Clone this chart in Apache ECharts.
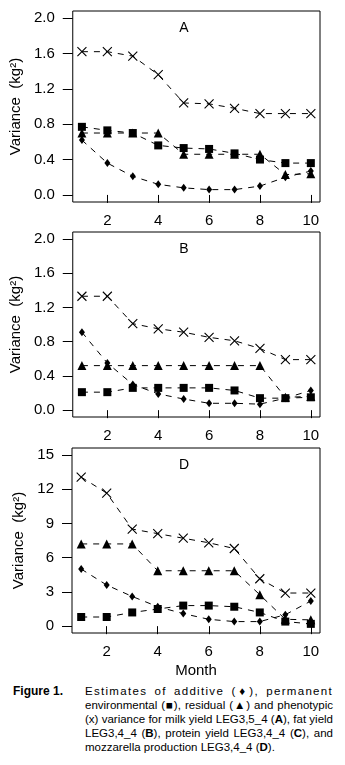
<!DOCTYPE html>
<html>
<head>
<meta charset="utf-8">
<script src="https://cdn.jsdelivr.net/npm/echarts@6/dist/echarts.min.js"></script>
<style>
  html, body { margin: 0; padding: 0; background: #fff; }
  #chart { position: absolute; left: 0; top: 0; width: 345px; height: 680px; }
  #caption { position: absolute; left: 0; top: 684px; width: 345px; font-family: "Liberation Sans", Arial, sans-serif; font-size: 11.5px; line-height: 14px; color: #000; }
  #caption .fig { position: absolute; left: 13px; top: 0; font-weight: bold; font-size: 12px; }
  #caption .body { position: absolute; left: 85px; top: 0; width: 248px; }
  #caption .ln { white-space: nowrap; text-align: justify; text-align-last: justify; }
  #caption .ln.first { letter-spacing: 1.3px; }
  #caption .ln.last { text-align-last: left; }
</style>
</head>
<body>
<div id="chart"></div>
<div id="caption">
  <div class="fig">Figure 1.</div>
  <div class="body">
    <div class="ln first">Estimates of additive (♦), permanent</div>
    <div class="ln">environmental (■), residual (▲) and phenotypic</div>
    <div class="ln">(x) variance for milk yield LEG3,5_4 (<b>A</b>), fat yield</div>
    <div class="ln">LEG3,4_4 (<b>B</b>), protein yield LEG3,4_4 (<b>C</b>), and</div>
    <div class="ln last">mozzarella production LEG3,4_4 (<b>D</b>).</div>
  </div>
</div>
<script>
  const months = [1, 2, 3, 4, 5, 6, 7, 8, 9, 10];
  const monthTicks = [2, 4, 6, 8, 10];
  const panelNames = ["A", "B", "D"];
  const yTicksAB = [0, 0.4, 0.8, 1.2, 1.6, 2.0];
  const yTicksD = [0, 3, 6, 9, 12, 15];

  const aAdditive = [0.62, 0.36, 0.21, 0.12, 0.08, 0.06, 0.06, 0.10, 0.20, 0.27];
  const aPermanent = [0.77, 0.73, 0.70, 0.56, 0.53, 0.52, 0.47, 0.40, 0.36, 0.36];
  const aResidual = [0.70, 0.70, 0.70, 0.70, 0.46, 0.46, 0.46, 0.46, 0.23, 0.24];
  const aPhenotypic = [1.62, 1.62, 1.57, 1.36, 1.04, 1.03, 0.98, 0.92, 0.92, 0.92];

  const bAdditive = [0.91, 0.55, 0.30, 0.19, 0.13, 0.08, 0.08, 0.07, 0.14, 0.23];
  const bPermanent = [0.21, 0.21, 0.26, 0.26, 0.26, 0.26, 0.23, 0.14, 0.14, 0.15];
  const bResidual = [0.52, 0.52, 0.52, 0.52, 0.52, 0.52, 0.52, 0.52, 0.15, 0.16];
  const bPhenotypic = [1.33, 1.33, 1.01, 0.95, 0.91, 0.85, 0.81, 0.72, 0.59, 0.59];

  const dAdditive = [5.0, 3.6, 2.6, 1.7, 1.1, 0.6, 0.4, 0.4, 1.0, 2.2];
  const dPermanent = [0.8, 0.8, 1.2, 1.5, 1.8, 1.8, 1.7, 1.2, 0.4, 0.2];
  const dResidual = [7.2, 7.2, 7.2, 4.85, 4.85, 4.85, 4.85, 2.75, 0.6, 0.55];
  const dPhenotypic = [13.05, 11.65, 8.5, 8.1, 7.7, 7.3, 6.8, 4.15, 2.9, 2.9];

  const panels = [
    [aAdditive, aPermanent, aResidual, aPhenotypic],
    [bAdditive, bPermanent, bResidual, bPhenotypic],
    [dAdditive, dPermanent, dResidual, dPhenotypic]
  ];

  const font = "Liberation Sans, Arial, sans-serif";
  const grids = [
    { left: 72, width: 248, top: 11, height: 191 },
    { left: 72, width: 248, top: 232, height: 185 },
    { left: 72, width: 248, top: 448, height: 185 }
  ].map((g) => ({ ...g, show: true, borderColor: "#000", borderWidth: 1, backgroundColor: "transparent" }));

  const symbols = [
    { symbol: "diamond", symbolSize: [6, 8] },
    { symbol: "rect", symbolSize: 8 },
    { symbol: "triangle", symbolSize: 9 },
    { symbol: "path://M0,0L10,10M10,0L0,10", symbolSize: 9 }
  ];

  const xAxes = grids.map((_, i) => ({
    type: "value", gridIndex: i, min: 0.64, max: 10.36,
    axisLine: { show: false }, splitLine: { show: false },
    axisTick: { show: true, length: 8, customValues: monthTicks, lineStyle: { color: "#000" } },
    axisLabel: { customValues: monthTicks, margin: 11, fontSize: 15, color: "#000", fontFamily: font },
    name: i === 2 ? "Month" : "", nameLocation: "middle", nameGap: 30,
    nameTextStyle: { fontSize: 15, color: "#000", fontFamily: font }
  }));

  const yAxes = grids.map((_, i) => {
    const ticks = i === 2 ? yTicksD : yTicksAB;
    const top = ticks[ticks.length - 1];
    const pad = top * 0.04;
    return {
      type: "value", gridIndex: i, min: -pad, max: top + pad,
      axisLine: { show: false }, splitLine: { show: false },
      axisTick: { show: true, length: 10, customValues: ticks, lineStyle: { color: "#000" } },
      axisLabel: { customValues: ticks, margin: 18, fontSize: 15, color: "#000", fontFamily: font,
        formatter: (v) => i === 2 ? String(v) : v.toFixed(1) },
      name: "Variance  (kg²)", nameLocation: "middle", nameGap: 44,
      nameTextStyle: { fontSize: 15, color: "#000", fontFamily: font }
    };
  });

  const series = [];
  panels.forEach((sets, p) => {
    sets.forEach((values, s) => {
      series.push({
        type: "line", xAxisIndex: p, yAxisIndex: p,
        data: months.map((m, k) => [m, values[k]]),
        symbol: symbols[s].symbol, symbolSize: symbols[s].symbolSize,
        showSymbol: true, silent: true,
        itemStyle: { color: "#000", borderColor: "#000", borderWidth: s === 3 ? 1.1 : 0 },
        lineStyle: { color: "#000", width: 1, type: [6, 6] }
      });
    });
  });

  const chart = echarts.init(document.getElementById("chart"));
  chart.setOption({
    animation: false,
    backgroundColor: "#fff",
    grid: grids,
    xAxis: xAxes,
    yAxis: yAxes,
    graphic: grids.map((g, i) => ({
      type: "text", x: 184, y: g.top + 17,
      style: { text: panelNames[i], fontSize: 14, fontFamily: font, fill: "#000", align: "center", verticalAlign: "middle" }
    })),
    series
  });
</script>
</body>
</html>
